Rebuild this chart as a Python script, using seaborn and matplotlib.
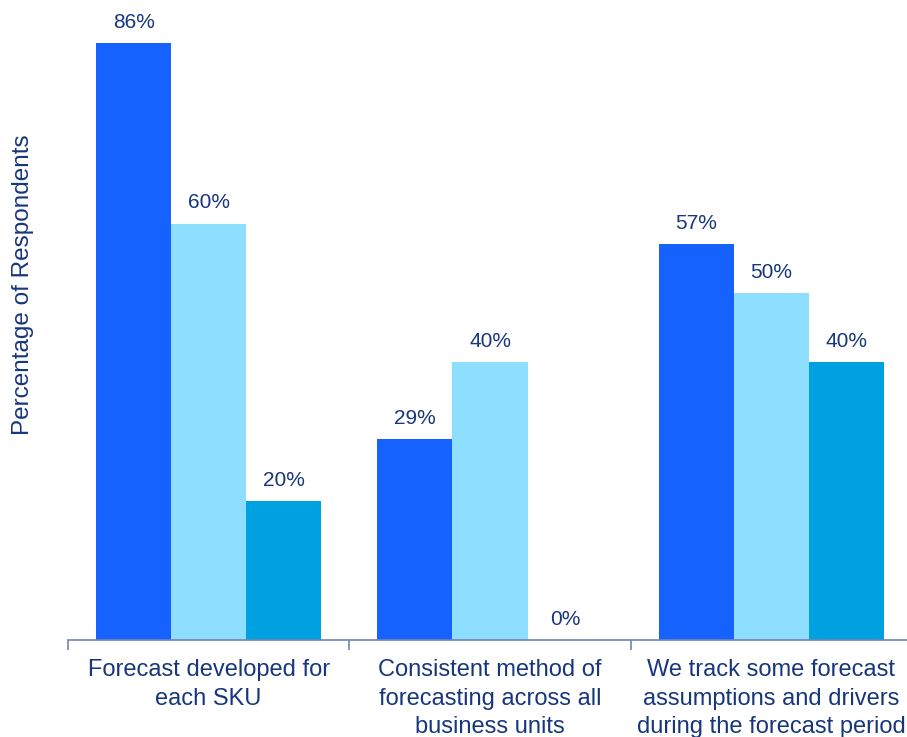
import matplotlib
matplotlib.use("Agg")
import matplotlib.pyplot as plt
import seaborn as sns
import pandas as pd

categories = [
    "Forecast developed for\neach SKU",
    "Consistent method of\nforecasting across all\nbusiness units",
    "We track some forecast\nassumptions and drivers\nduring the forecast period",
]
series = ["Group 1", "Group 2", "Group 3"]
values = {
    "Group 1": [86, 29, 57],
    "Group 2": [60, 40, 50],
    "Group 3": [20, 0, 40],
}
colors = ["#1562FE", "#8EDFFF", "#00A1E0"]
text_color = "#17367C"
axis_color = "#6E86B4"

rows = []
for s in series:
    for c, v in zip(categories, values[s]):
        rows.append({"category": c, "series": s, "value": v})
df = pd.DataFrame(rows)

sns.set_style("white")
plt.rcParams["font.family"] = ["Liberation Sans", "DejaVu Sans"]

fig = plt.figure(figsize=(9.07, 7.37), dpi=100)
ax = fig.add_axes([68 / 907, 97 / 737, 844 / 907, 640 / 737])

sns.barplot(data=df, x="category", y="value", hue="series", order=categories,
            hue_order=series, palette=colors, width=0.8, saturation=1,
            legend=False, ax=ax, linewidth=0)

for cont in ax.containers:
    labels = [f"{b.get_height():.0f}%" for b in cont]
    ax.bar_label(cont, labels=labels, padding=8, fontsize=15, color=text_color)

ax.set_xlim(-0.5, 2.5)
ax.set_ylim(0, 92.2)
ax.set_yticks([])
ax.set_xlabel("")
ax.set_ylabel("Percentage of Respondents", fontsize=17.5, color=text_color)
ax.yaxis.set_label_coords(-0.040, 0.555)

for side in ["left", "top", "right"]:
    ax.spines[side].set_visible(False)
ax.spines["bottom"].set_color(axis_color)
ax.spines["bottom"].set_linewidth(1.2)

ax.set_xticks(range(len(categories)))
ax.set_xticklabels(categories, fontsize=17, color=text_color, linespacing=1.37)
ax.tick_params(axis="x", which="major", length=0, pad=14)
ax.set_xticks([-0.5, 0.5, 1.5, 2.5], minor=True)
ax.tick_params(axis="x", which="minor", length=7, width=1.2, color=axis_color,
               direction="out", bottom=True)

fig.savefig("out.png", dpi=100)
